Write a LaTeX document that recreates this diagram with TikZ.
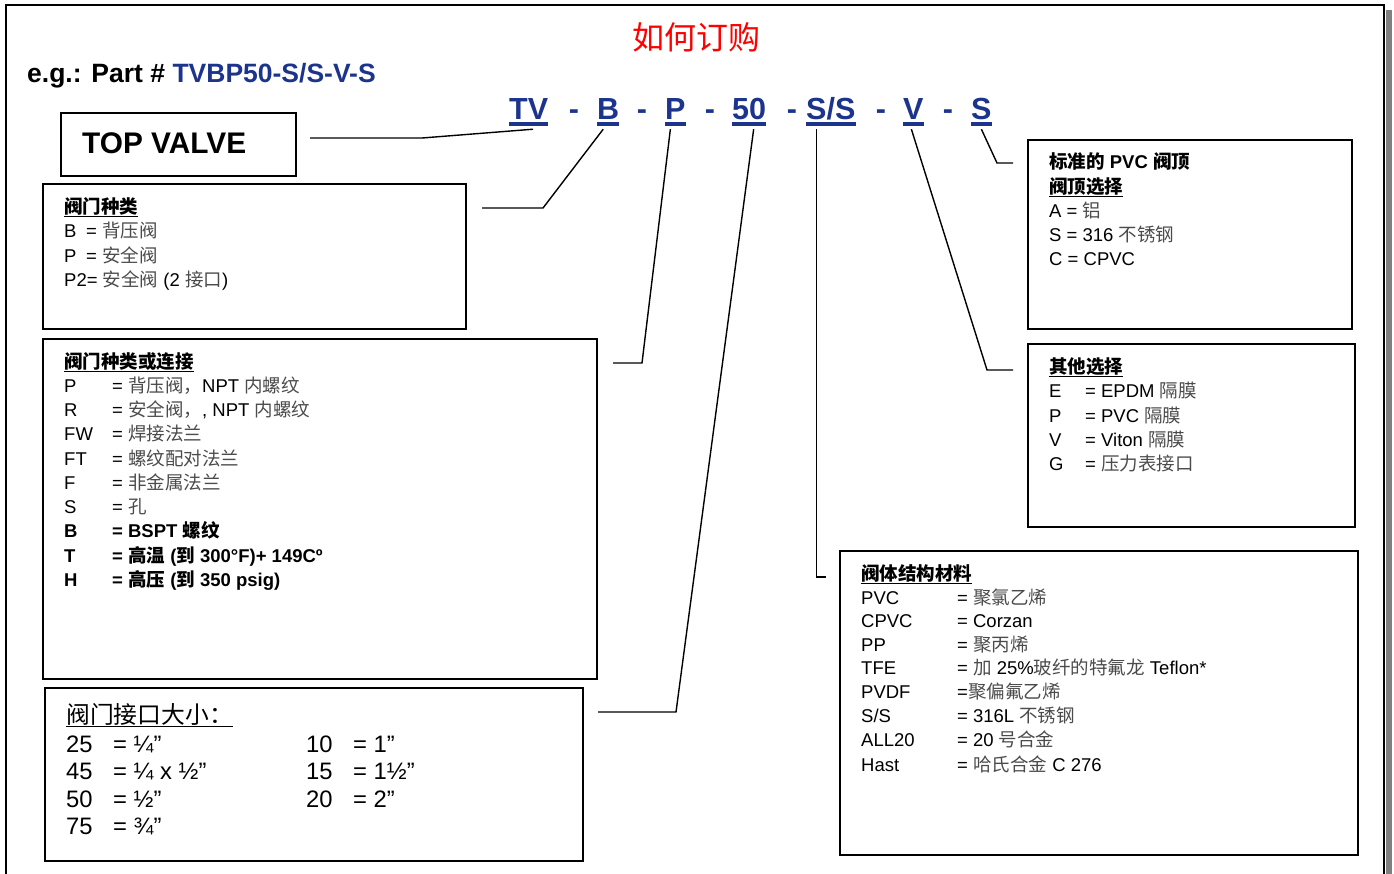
\documentclass[tikz,border=0pt]{standalone}
\usepackage{fontspec}
\setmainfont{Liberation Sans}
\newfontfamily\cjk{Noto Sans CJK SC}
\usetikzlibrary{calc}
\definecolor{codeblue}{RGB}{28,52,140}
\definecolor{zhgray}{RGB}{75,75,75}
\definecolor{shadowgray}{RGB}{128,128,128}
\newcommand\zh[1]{{\cjk\color{zhgray}#1}}
\newcommand\zb[1]{{\cjk\bfseries #1}}
\newcommand\zr[1]{{\cjk #1}}
\newcommand\keyw[2]{\makebox[#1][l]{#2}}
\tikzset{
  box/.style={draw, line width=1.6pt, anchor=north west, inner sep=0pt, outer sep=0pt},
  txt/.style={anchor=base west, inner sep=0pt, font=\fontsize{18.5}{21}\selectfont},
  bigtxt/.style={anchor=base west, inner sep=0pt, font=\fontsize{23.8}{26}\selectfont},
  code/.style={anchor=base west, inner sep=0pt, text depth=0pt, text=codeblue, font=\fontsize{30.5}{32}\selectfont\bfseries},
  dashc/.style={anchor=base, inner sep=0pt, text=codeblue, font=\fontsize{30.5}{32}\selectfont\bfseries},
  ulc/.style={line width=3.5pt, draw=codeblue},
  conn/.style={line width=1.4pt, line join=miter},
}
\begin{document}
\begin{tikzpicture}[x=1pt,y=-1pt]
\useasboundingbox (0,0) rectangle (1394,873);
% outer frame
\fill[shadowgray] (1386,10) rectangle (1392,880);
\draw[line width=1.6pt] (6,880) -- (6,5) -- (1384,5) -- (1384,880);

% title
\node[inner sep=0pt, text=red, font=\fontsize{32}{34}\selectfont] (title) at (696,37) {\zr{如何订购}};
\node[anchor=base west, inner sep=0pt, font=\fontsize{26.5}{28}\selectfont\bfseries] (eg) at (27,82)
  {e.g.: Part \# \textcolor{codeblue}{TVBP50-S/S-V-S}};

% code line
\node[code] (tv)  at (509,119) {TV};
\node[code] (cb)  at (597,119) {B};
\node[code] (cp)  at (665,119) {P};
\node[code] (c50) at (732,119) {50};
\node[code] (css) at (806,119) {S/S};
\node[code] (cv)  at (903,119) {V};
\node[code] (cs)  at (971,119) {S};
\node[dashc] (d1) at (574,119) {-};
\node[dashc] (d2) at (642,119) {-};
\node[dashc] (d3) at (710,119) {-};
\node[dashc] (d4) at (792,119) {-};
\node[dashc] (d5) at (881,119) {-};
\node[dashc] (d6) at (948,119) {-};
\foreach \n in {tv,cb,cp,c50,css,cv,cs}
  \draw[ulc] ($(\n.south west)+(0,5)$) -- ($(\n.south east)+(0,5)$);

% boxes
\node[box, minimum width=235pt, minimum height=63pt] (btop) at (61,113) {};
\node[box, minimum width=423pt, minimum height=145pt] (b1) at (43,184) {};
\node[box, minimum width=554pt, minimum height=340pt] (b2) at (43,339) {};
\node[box, minimum width=538pt, minimum height=173pt] (b3) at (45,688) {};
\node[box, minimum width=324pt, minimum height=189pt] (b4) at (1028,140) {};
\node[box, minimum width=327pt, minimum height=183pt] (b5) at (1028,344) {};
\node[box, minimum width=518pt, minimum height=304pt] (b6) at (840,551) {};

% connector free ends
\coordinate (tvk) at (422,138); \coordinate (tve) at (310,138);
\coordinate (bk) at (543,208);  \coordinate (be) at (482,208);
\coordinate (pk) at (642,363);  \coordinate (pe) at (613,363);
\coordinate (fk) at (676,712);  \coordinate (fe) at (598,712);
\coordinate (sse) at (826,577);
\coordinate (vk) at (987,370);  \coordinate (ve) at (1013,370);
\coordinate (sk) at (997,163);  \coordinate (se) at (1013,163);

\draw[conn] ($(tv.south)+(4.5,10)$) -- (tvk) -- (tve);
\draw[conn] ($(cb.south)+(-5,10)$) -- (bk) -- (be);
\draw[conn] ($(cp.south)+(-5,10)$) -- (pk) -- (pe);
\draw[conn] ($(c50.south)+(4.5,10)$) -- (fk) -- (fe);
\draw[conn] ($(css.south)+(-14,10)$) |- (sse);
\draw[conn] ($(cv.south)+(-2,10)$) -- (vk) -- (ve);
\draw[conn] ($(cs.south)+(0,10)$) -- (sk) -- (se);

% TOP VALVE
\node[anchor=base west, inner sep=0pt, font=\fontsize{29.8}{32}\selectfont\bfseries] (topv) at (82,153.5) {TOP VALVE};

% box 1
\node[txt] (b1t) at (64,213) {\underline{\zb{阀门种类}}};
\node[txt] (b1a) at (64,237) {\keyw{22pt}{B}= \zh{背压阀}};
\node[txt] (b1b) at (64,262) {\keyw{22pt}{P}= \zh{安全阀}};
\node[txt] (b1c) at (64,286) {P2= \zh{安全阀} (2 \zh{接口})};

% box 2
\node[txt] (b2t) at (64,368) {\underline{\zb{阀门种类或连接}}};
\node[txt] (b2a) at (64,392) {\keyw{48pt}{P}= \zh{背压阀，}NPT \zh{内螺纹}};
\node[txt] (b2b) at (64,416) {\keyw{48pt}{R}= \zh{安全阀，}, NPT \zh{内螺纹}};
\node[txt] (b2c) at (64,440) {\keyw{48pt}{FW}= \zh{焊接法兰}};
\node[txt] (b2d) at (64,465) {\keyw{48pt}{FT}= \zh{螺纹配对法兰}};
\node[txt] (b2e) at (64,489) {\keyw{48pt}{F}= \zh{非金属法兰}};
\node[txt] (b2f) at (64,513) {\keyw{48pt}{S}= \zh{孔}};
\node[txt] (b2g) at (64,537) {\bfseries\keyw{48pt}{B}= BSPT \zb{螺纹}};
\node[txt] (b2h) at (64,562) {\bfseries\keyw{48pt}{T}= \zb{高温} (\zb{到} 300°F)+ 149Cº};
\node[txt] (b2i) at (64,586) {\bfseries\keyw{48pt}{H}= \zb{高压} (\zb{到} 350 psig)};

% box 3
\node[bigtxt] (b3t) at (66,723) {\underline{\zr{阀门接口大小：}}};
\node[bigtxt] (b3a) at (66,752) {\keyw{47pt}{25}= ¼”};
\node[bigtxt] (b3b) at (66,779) {\keyw{47pt}{45}= ¼ x ½”};
\node[bigtxt] (b3c) at (66,807) {\keyw{47pt}{50}= ½”};
\node[bigtxt] (b3d) at (66,834) {\keyw{47pt}{75}= ¾”};
\node[bigtxt] (b3e) at (306,752) {\keyw{47pt}{10}= 1”};
\node[bigtxt] (b3f) at (306,779) {\keyw{47pt}{15}= 1½”};
\node[bigtxt] (b3g) at (306,807) {\keyw{47pt}{20}= 2”};

% box 4
\node[txt] (b4t) at (1049,168) {\zb{标准的} \textbf{PVC} \zb{阀顶}};
\node[txt] (b4u) at (1049,193) {\underline{\zb{阀顶选择}}};
\node[txt] (b4a) at (1049,217) {A = \zh{铝}};
\node[txt] (b4b) at (1049,241) {S = 316 \zh{不锈钢}};
\node[txt] (b4c) at (1049,265) {C = CPVC};

% box 5
\node[txt] (b5t) at (1049,373) {\underline{\zb{其他选择}}};
\node[txt] (b5a) at (1049,397) {\keyw{36pt}{E}= EPDM \zh{隔膜}};
\node[txt] (b5b) at (1049,422) {\keyw{36pt}{P}= PVC \zh{隔膜}};
\node[txt] (b5c) at (1049,446) {\keyw{36pt}{V}= Viton \zh{隔膜}};
\node[txt] (b5d) at (1049,470) {\keyw{36pt}{G}= \zh{压力表接口}};

% box 6
\node[txt] (b6t) at (861,580) {\underline{\zb{阀体结构材料}}};
\node[txt] (b6a) at (861,604) {\keyw{96pt}{PVC}= \zh{聚氯乙烯}};
\node[txt] (b6b) at (861,627) {\keyw{96pt}{CPVC}= Corzan};
\node[txt] (b6c) at (861,651) {\keyw{96pt}{PP}= \zh{聚丙烯}};
\node[txt] (b6d) at (861,674) {\keyw{96pt}{TFE}= \zh{加} 25\%\zh{玻纤的特氟龙} Teflon*};
\node[txt] (b6e) at (861,698) {\keyw{96pt}{PVDF}=\zh{聚偏氟乙烯}};
\node[txt] (b6f) at (861,722) {\keyw{96pt}{S/S}= 316L \zh{不锈钢}};
\node[txt] (b6g) at (861,746) {\keyw{96pt}{ALL20}= 20 \zh{号合金}};
\node[txt] (b6h) at (861,771) {\keyw{96pt}{Hast}= \zh{哈氏合金} C 276};
\end{tikzpicture}
\end{document}
